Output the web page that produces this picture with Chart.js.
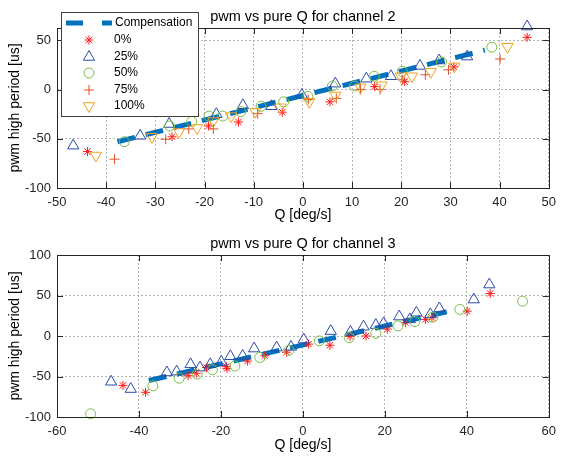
<!DOCTYPE html>
<html>
<head>
<meta charset="utf-8">
<script src="https://cdn.jsdelivr.net/npm/chart.js@4.4.1/dist/chart.umd.min.js"></script>
<style>
  html, body { margin: 0; padding: 0; background: #fff; }
  #wrap { position: relative; width: 563px; height: 463px; }
  .box { position: absolute; left: 0; width: 563px; }
  #box2 { top: 0; height: 232px; }
  #box3 { top: 232px; height: 231px; }
</style>
</head>
<body>
<div id="wrap">
  <div class="box" id="box2"><canvas id="ch2" width="563" height="232"></canvas></div>
  <div class="box" id="box3"><canvas id="ch3" width="563" height="231"></canvas></div>
</div>
<script>
// Channel 2 (top plot)
const ch2CompX = [-37.7, 37.0];
const ch2CompY = [-53, 40];
const ch2P0X = [-43.8, -26.6, -19.2, -13.1, -4.2, 5.5, 14.6, 20.7, 30.7, 45.6];
const ch2P0Y = [-63, -48, -37, -33, -23, -12.5, 3, 8, 23, 53];
const ch2P25X = [-46.7, -33.1, -27.2, -17.6, -12.2, -6.4, -0.2, 6.6, 12.9, 17.9, 23.8, 27.7, 33.4, 45.6];
const ch2P25Y = [-57, -47, -35, -25, -16, -17, -5.5, 6, 11, 13.5, 24, 29.5, 33.5, 64];
const ch2P50X = [-36.3, -27.1, -22.6, -19.1, -16.3, -12.6, -8.5, -3.9, 1.0, 6.0, 10.5, 14.5, 20.2, 28.2, 38.4];
const ch2P50Y = [-53, -37, -32.5, -27, -27, -22.5, -17, -12.5, -7, 3.5, 3.5, 13.5, 18.5, 28, 43];
const ch2P75X = [-38.3, -27.9, -23.2, -18.2, -9.2, 1.1, 6.8, 11.7, 15.7, 20.2, 24.9, 29.6, 40.1];
const ch2P75Y = [-70.7, -50.5, -40, -40, -24.5, -10, -9, 0, 0, 10, 15, 20, 31];
const ch2P100X = [-42.1, -30.7, -25.2, -21.5, -18.2, -14.6, -9.7, -4.6, 1.3, 6.6, 11.7, 16.0, 19.9, 22.2, 26.0, 30.8, 41.6];
const ch2P100Y = [-67, -48, -43, -39, -32, -27, -22.5, -18, -12.5, -6, 2.3, 4.4, 13.5, 13.5, 18, 23.5, 43.5];

// Channel 3 (bottom plot)
const ch3CompX = [-37.6, 35.1];
const ch3CompY = [-55, 30];
const ch3P0X = [-43.9, -38.4, -28.0, -26.0, -23.5, -18.7, -18.5, -13.5, -9.3, -4.0, 1.4, 6.6, 11.5, 15.4, 20.6, 25.0, 29.9, 31.5, 40.1, 45.7];
const ch3P0Y = [-61, -69.5, -49, -46, -39, -37.5, -40, -31, -24.5, -20, -10, -11.4, -0.5, 0, 8.5, 16.5, 20.5, 22.6, 30.7, 52.5];
const ch3P25X = [-46.8, -42.0, -33.2, -30.8, -27.4, -25.1, -22.6, -19.9, -17.7, -14.7, -11.9, -6.4, -2.9, 0.2, 6.8, 11.6, 14.8, 17.8, 19.7, 23.5, 26.1, 27.7, 31.1, 33.3, 41.7, 45.5];
const ch3P25Y = [-56.5, -65.5, -45, -44, -35, -39, -35, -32, -25, -24.6, -15.5, -14.3, -13.5, -4.5, 6, 5, 11.5, 13.5, 15.6, 24, 20.5, 28.7, 26.7, 34, 45, 63.5];
const ch3P50X = [-51.8, -36.6, -30.2, -25.8, -22.1, -16.6, -10.5, -3.4, 4.0, 11.3, 17.8, 23.2, 27.3, 31.7, 38.3, 53.6];
const ch3P50Y = [-96, -61.5, -52, -47, -41.7, -37, -26.5, -17.6, -6, -2, 3.3, 12.5, 17.7, 23.3, 32.8, 43];

// Axis ticks
const ch2XTicks = [-50, -40, -30, -20, -10, 0, 10, 20, 30, 40, 50];
const ch2YTicks = [-100, -50, 0, 50];
const ch3XTicks = [-60, -40, -20, 0, 20, 40, 60];
const ch3YTicks = [-100, -50, 0, 50, 100];

const FONT = '"Liberation Sans", Arial, Helvetica, sans-serif';
const AXIS_COLOR = '#262626';

const pts = (xs, ys) => xs.map((x, i) => ({ x: x, y: ys[i] }));

function compSet(xs, ys) {
    return {
        label: 'Compensation',
        data: pts(xs, ys),
        showLine: true,
        borderColor: '#0072BD',
        backgroundColor: '#0072BD',
        borderWidth: 5,
        borderDash: [18, 11],
        pointRadius: 0,
        order: 10
    };
}

function markerSet(label, xs, ys, style, color, radius, rotation, order) {
    return {
        label: label,
        data: pts(xs, ys),
        showLine: false,
        pointStyle: style,
        pointRotation: rotation || 0,
        pointRadius: radius,
        pointHoverRadius: radius,
        pointBorderWidth: 1,
        borderColor: color,
        backgroundColor: 'rgba(0,0,0,0)',
        clip: false,
        order: order
    };
}

/**
 * Frame around the plot area with inward ticks, plus the title
 */
const matlabFrame = {
    id: 'matlabFrame',
    afterDraw(chart, args, opts) {
        const { ctx, chartArea: a, scales: { x, y } } = chart;
        ctx.save();
        ctx.strokeStyle = AXIS_COLOR;
        ctx.lineWidth = 1;
        ctx.setLineDash([]);
        ctx.strokeRect(Math.round(a.left) + 0.5, Math.round(a.top) + 0.5,
            Math.round(a.right - a.left), Math.round(a.bottom - a.top));
        const tl = 6;
        ctx.beginPath();
        x.ticks.forEach(t => {
            const px = Math.round(x.getPixelForValue(t.value)) + 0.5;
            ctx.moveTo(px, a.bottom); ctx.lineTo(px, a.bottom - tl);
            ctx.moveTo(px, a.top); ctx.lineTo(px, a.top + tl);
        });
        y.ticks.forEach(t => {
            const py = Math.round(y.getPixelForValue(t.value)) + 0.5;
            ctx.moveTo(a.left, py); ctx.lineTo(a.left + tl, py);
            ctx.moveTo(a.right, py); ctx.lineTo(a.right - tl, py);
        });
        ctx.stroke();

        ctx.fillStyle = '#000';
        ctx.font = '14.5px ' + FONT;
        ctx.textAlign = 'center';
        ctx.textBaseline = 'alphabetic';
        ctx.fillText(opts.text, (a.left + a.right) / 2, a.top - 7);
        ctx.restore();
    }
};

/**
 * Boxed legend in the upper left corner (top plot only)
 */
const boxLegend = {
    id: 'boxLegend',
    afterDraw(chart, args, opts) {
        if (!opts.show) return;
        const ctx = chart.ctx;
        ctx.save();
        ctx.fillStyle = '#fff';
        ctx.fillRect(61.5, 12.5, 137, 104);
        ctx.strokeStyle = '#404040';
        ctx.lineWidth = 1;
        ctx.strokeRect(61.5, 12.5, 137, 104);

        const rows = [23, 40, 57, 73, 90, 106];
        ctx.font = '12px ' + FONT;
        ctx.textBaseline = 'middle';
        ctx.textAlign = 'left';
        chart.data.datasets.forEach((ds, i) => {
            const ry = rows[i];
            if (ds.showLine) {
                ctx.save();
                ctx.strokeStyle = ds.borderColor;
                ctx.lineWidth = ds.borderWidth;
                ctx.setLineDash([17, 19]);
                ctx.beginPath();
                ctx.moveTo(66, ry);
                ctx.lineTo(112, ry);
                ctx.stroke();
                ctx.restore();
            } else {
                ctx.save();
                ctx.strokeStyle = ds.borderColor;
                ctx.fillStyle = 'rgba(0,0,0,0)';
                ctx.lineWidth = ds.pointBorderWidth;
                Chart.helpers.drawPoint(ctx, {
                    pointStyle: ds.pointStyle,
                    rotation: ds.pointRotation,
                    radius: ds.pointRadius,
                    borderWidth: ds.pointBorderWidth
                }, 89, ry);
                ctx.restore();
            }
            ctx.fillStyle = '#000';
            ctx.fillText(ds.label, i === 0 ? 115 : 114, ry);
        });
        ctx.restore();
    }
};

function axisOpts(min, max, tickVals, title, isY, size, titlePad) {
    return {
        type: 'linear',
        min: min,
        max: max,
        afterBuildTicks: s => { s.ticks = tickVals.map(v => ({ value: v })); },
        afterFit: s => { if (isY) s.width = size; else s.height = size; },
        ticks: {
            color: AXIS_COLOR,
            font: { family: FONT, size: 13 },
            padding: isY ? 6 : 7,
            maxRotation: 0,
            autoSkip: false,
            callback: v => String(v)
        },
        grid: {
            color: '#b4b4b4',
            lineWidth: 1,
            drawTicks: false
        },
        border: { display: false, dash: [2, 2] },
        title: {
            display: true,
            text: title,
            color: '#000',
            font: { family: FONT, size: 14 },
            padding: titlePad
        }
    };
}

function makeChart(id, datasets, xr, yr, title, padTop, xHeight, xTitlePad, legend) {
    return new Chart(document.getElementById(id), {
        type: 'scatter',
        data: { datasets: datasets },
        options: {
            responsive: false,
            animation: false,
            events: [],
            layout: { padding: { top: padTop, right: 8, left: 0, bottom: 0 } },
            plugins: {
                legend: { display: false },
                tooltip: { enabled: false },
                matlabFrame: { text: title },
                boxLegend: { show: legend }
            },
            scales: {
                x: axisOpts(xr[0], xr[1], xr[2], 'Q [deg/s]', false, xHeight, { top: 0, bottom: xTitlePad }),
                y: axisOpts(yr[0], yr[1], yr[2], 'pwm high period [us]', true, 57, { top: 7, bottom: 0 })
            }
        },
        plugins: [matlabFrame, boxLegend]
    });
}

makeChart('ch2', [
    compSet(ch2CompX, ch2CompY),
    markerSet('0%', ch2P0X, ch2P0Y, 'star', '#ff1a1a', 4.5, 0, 5),
    markerSet('25%', ch2P25X, ch2P25Y, 'triangle', '#2b4ba8', 6.5, 0, 4),
    markerSet('50%', ch2P50X, ch2P50Y, 'circle', '#77c043', 5, 0, 3),
    markerSet('75%', ch2P75X, ch2P75Y, 'cross', '#e0502a', 5, 0, 2),
    markerSet('100%', ch2P100X, ch2P100Y, 'triangle', '#f0a020', 6.5, 180, 1)
], [-50, 50, ch2XTicks], [-100, 62.5, ch2YTicks], 'pwm vs pure Q for channel 2', 28, 44, 8, true);

makeChart('ch3', [
    compSet(ch3CompX, ch3CompY),
    markerSet('0%', ch3P0X, ch3P0Y, 'star', '#ff1a1a', 4.5, 0, 5),
    markerSet('25%', ch3P25X, ch3P25Y, 'triangle', '#2b4ba8', 6.5, 0, 4),
    markerSet('50%', ch3P50X, ch3P50Y, 'circle', '#77c043', 5, 0, 3)
], [-60, 60, ch3XTicks], [-100, 100, ch3YTicks], 'pwm vs pure Q for channel 3', 23, 46, 9, false);
</script>
</body>
</html>
